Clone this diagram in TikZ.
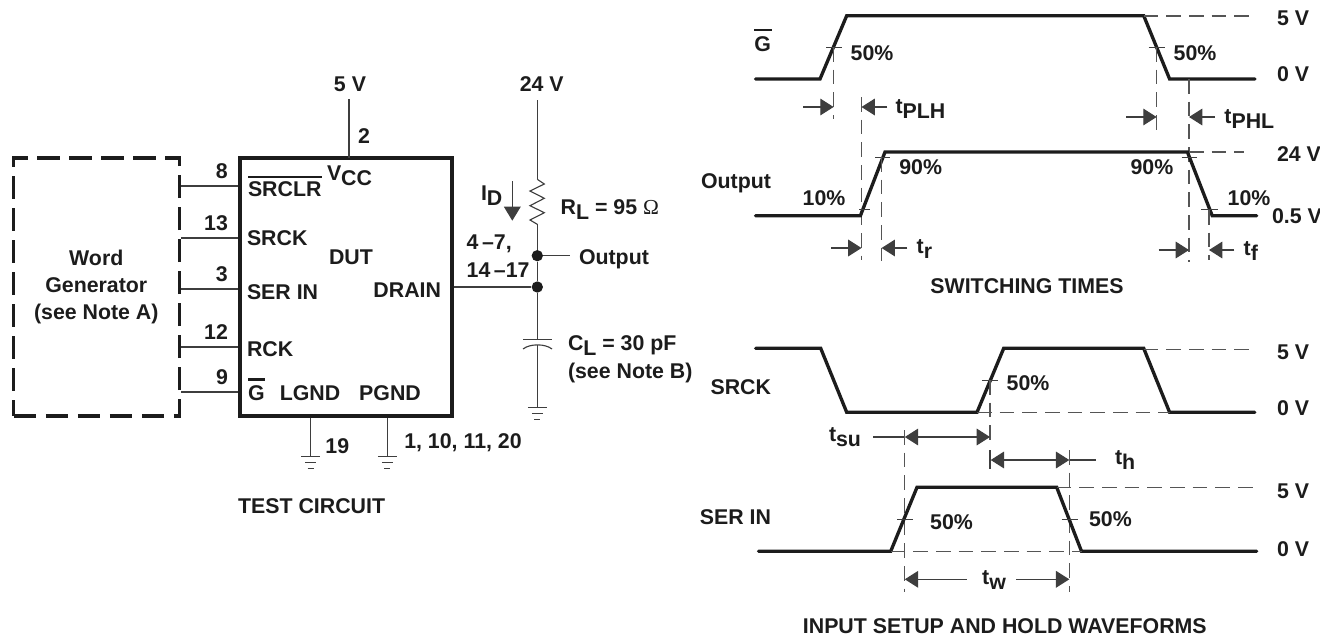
\documentclass[tikz,border=0pt]{standalone}
\usepackage{fontspec}
\setmainfont{Liberation Sans}
\newfontfamily\symfont{Liberation Serif}
\usetikzlibrary{arrows.meta}
\definecolor{ink}{HTML}{1c1c1c}
\newcommand{\subt}[2]{#1\raisebox{-3.8pt}{#2}}
\tikzset{
  lab/.style={inner sep=0pt,outer sep=0pt,font=\fontsize{16}{16}\selectfont\bfseries,text=ink,text height=11.4pt,text depth=0pt},
  wave/.style={line width=2.5pt,draw=ink,line join=miter,line cap=round},
  thin line/.style={line width=0.85pt,draw=ink!85},
  dashline/.style={line width=0.85pt,draw=ink!75,dash pattern=on 11pt off 6pt},
  ticks/.style={line width=0.75pt,draw=ink!85},
  dim/.style={line width=0.85pt,draw=ink!85,-{Triangle[length=10pt,width=12.5pt]}},
  dimboth/.style={line width=0.85pt,draw=ink!85,{Triangle[length=10pt,width=12.5pt]}-{Triangle[length=10pt,width=12.5pt]}},
  chip/.style={draw=ink,line width=2.5pt,inner sep=0pt,minimum width=159pt,minimum height=193.5pt},
  gen/.style={draw=ink,line width=2.5pt,dash pattern=on 17pt off 7pt,inner sep=0pt,minimum width=124.5pt,minimum height=193.5pt},
  junction/.style={circle,fill=ink,inner sep=0pt,minimum size=8.5pt},
}
\begin{document}
\begin{tikzpicture}[x=0.75pt,y=-0.75pt]
\useasboundingbox (0,0) rectangle (1320,636);
% ---- Test circuit
\node[gen] (wg) at (96.8,287) {};
\node[chip] (ic) at (346,287) {};
\node[lab] (wgt1) at (96.3,258) {Word};
\node[lab] (wgt2) at (96.3,285) {Generator};
\node[lab] (wgt3) at (96.3,312) {(see Note A)};
\foreach \nm/\yy/\pin/\lx in {p8/186/8/221.7,p13/238/13/216,p3/289/3/221.7,p12/347/12/216,p9/392/9/222}{
  \coordinate (\nm) at (ic.west |- 0,\yy);
  \draw[thin line] (wg.east |- \nm) -- (\nm);
  \pgfmathsetmacro{\ly}{\yy-15}
  \node[lab] (l\nm) at (\lx,\ly) {\pin};
}
\node[lab,anchor=west] (srclr) at (248,189) {SRCLR};
\draw[line width=2.2pt,draw=ink] (248,177) -- (322,177);
\node[lab,anchor=west] (srck) at (247,238) {SRCK};
\node[lab,anchor=west] (serin) at (247,292) {SER IN};
\node[lab,anchor=west] (rck) at (247,349) {RCK};
\node[lab] (gbar) at (256.5,393) {G};
\draw[line width=2.2pt,draw=ink] (248,379.5) -- (265,379.5);
\node[lab,anchor=west] (vcc) at (327,173) {\subt{V}{CC}};
\node[lab] (dut) at (351,257) {DUT};
\node[lab,anchor=east] (drain) at (441,290) {DRAIN};
\node[lab] (lgnd) at (310,393) {LGND};
\node[lab] (pgnd) at (390,393) {PGND};
% supply
\coordinate (vccpin) at (349,158);
\node[lab] (v5) at (350,84) {5 V};
\draw[thin line] (349,99) -- (vccpin);
\node[lab] (n2) at (364,136) {2};
% grounds
\foreach \gn/\gx/\gy in {gl/310.6/456.7,gp/387.4/456.7,gc/537.3/407.7}{
  \coordinate (\gn) at (\gx,\gy);
  \draw[thin line] ([xshift=-9.5*0.75pt]\gn) -- ([xshift=9.5*0.75pt]\gn);
  \draw[thin line] ([xshift=-5.5*0.75pt,yshift=-6*0.75pt]\gn) -- ([xshift=5.5*0.75pt,yshift=-6*0.75pt]\gn);
  \draw[thin line] ([xshift=-3*0.75pt,yshift=-11.5*0.75pt]\gn) -- ([xshift=3*0.75pt,yshift=-11.5*0.75pt]\gn);
}
\draw[thin line] (gl |- ic.south) -- (gl);
\draw[thin line] (gp |- ic.south) -- (gp);
\node[lab] (n19) at (337.3,446) {19};
\node[lab] (npg) at (463,440.7) {1, 10, 11, 20};
\node[lab] (tc) at (311.6,505.7) {TEST CIRCUIT};
% output column
\node[lab] (v24) at (541.7,84) {24 V};
\node[junction] (jo) at (537.3,255.7) {};
\node[junction] (jd) at (537.3,287) {};
\coordinate (rtop) at (537.3,179.3);
\coordinate (rbot) at (537.3,224.3);
\coordinate (ctop) at (537.3,339.3);
\coordinate (cbot) at (537.3,345);
\coordinate (oend) at (570,255.7);
\draw[thin line] (537.3,100) -- (rtop);
\draw[thin line] (rtop) -- (544.3,184) -- (530,191) -- (544.3,198.3) -- (530,205.7) -- (544.3,212.7) -- (530,220) -- (rbot);
\draw[thin line] (rbot) -- (jo);
\draw[thin line] (jo) -- (jd);
\draw[thin line] (jo) -- (oend);
\draw[thin line] (jd) -- (ctop);
\draw[thin line] (ic.east |- jd) -- (jd);
\draw[thin line] (523,339.3) -- (552,339.3);
\draw[thin line] (523,349) .. controls (530,343.5) and (545,343.5) .. (552,349);
\draw[thin line] (cbot) -- (gc);
\node[lab,anchor=west] (ooo) at (579,257) {Output};
\node[lab,anchor=west] (id) at (481,193) {\subt{I}{D}};
\coordinate (ida) at (512.3,181);
\coordinate (idb) at (512.3,220.7);
\draw[dim,-{Triangle[length=10.5pt,width=12.5pt]}] (ida) -- (idb);
\node[lab,anchor=west] (rl) at (560.7,207) {\subt{R}{L} = 95 {\symfont\fontseries{m}\selectfont Ω}};
\node[lab,anchor=west] (p47) at (466.7,242) {4\,–7,};
\node[lab,anchor=west] (p14) at (466.7,270) {14\,–17};
\node[lab,anchor=west] (cl) at (568,342.7) {\subt{C}{L} = 30 pF};
\node[lab,anchor=west] (nb) at (568,370.7) {(see Note B)};
% ---- Switching times
\node[lab] (glab) at (762.7,44) {G};
\draw[line width=2.2pt,draw=ink] (754,30) -- (771.5,30);
\draw[wave] (755.6,79) -- (820,79) -- (846.7,15.7) -- (1143.7,15.7) -- (1169.6,79) -- (1255,79);
\draw[dashline] (1143.7,16) -- (1249,16);
\draw[ticks] (826,47.3) -- (842,47.3);
\draw[ticks] (1148.5,47.7) -- (1165,47.7);
\draw[dashline] (833.6,47) -- (833.6,119);
\draw[dashline] (1156.6,47) -- (1156.6,133);
\draw[dashline] (861.5,97) -- (861.5,260);
\draw[dashline] (1189,79) -- (1189,262);
\node[lab] at (872,53) {50\%};
\node[lab] at (1195,52.5) {50\%};
\node[lab,anchor=west] at (1277,18) {5 V};
\node[lab,anchor=west] at (1277,74) {0 V};
\draw[dim] (803,107) -- (833.6,107);
\draw[dim] (887.4,107) -- (861.5,107);
\node[lab,anchor=west] at (895.5,106) {\subt{t}{PLH}};
\draw[dim] (1126,117) -- (1156.6,117);
\draw[dim] (1215,117) -- (1189,117);
\node[lab,anchor=west] at (1224.4,116) {\subt{t}{PHL}};
\node[lab,anchor=east] at (771,181) {Output};
\draw[wave] (755.6,215.7) -- (860.4,215.7) -- (885,152) -- (1187.4,152) -- (1212.2,215.7) -- (1256.7,215.7);
\draw[dashline] (1189,152) -- (1244,152);
\draw[ticks] (859,209.7) -- (870,209.7);
\draw[ticks] (875,157.3) -- (890,157.3);
\draw[ticks] (1181.5,157.3) -- (1197.4,157.3);
\draw[ticks] (1201,209.7) -- (1217.8,209.7);
\draw[dashline] (881.6,157) -- (881.6,261);
\draw[dashline] (1209,210) -- (1209,260);
\node[lab] at (824,198) {10\%};
\node[lab] at (920.7,167) {90\%};
\node[lab] at (1151.9,167) {90\%};
\node[lab] at (1249,198) {10\%};
\node[lab,anchor=west] at (1277,154) {24 V};
\node[lab,anchor=west] at (1272,216) {0.5 V};
\draw[dim] (831,248) -- (861.5,248);
\draw[dim] (907.4,248) -- (881.6,248);
\node[lab,anchor=west] at (916.7,246) {\subt{t}{r}};
\draw[dim] (1158.5,250) -- (1189,250);
\draw[dim] (1234.4,250) -- (1209,250);
\node[lab,anchor=west] at (1243.7,248) {\subt{t}{f}};
\node[lab] at (1027,286) {SWITCHING TIMES};
% ---- Setup and hold
\node[lab,anchor=east] at (771,386.7) {SRCK};
\draw[wave] (755.6,348.3) -- (820.7,348.3) -- (846.7,412.3) -- (977,412.3) -- (1003.7,348.3) -- (1143.7,348.3) -- (1169.6,412.3) -- (1254.8,412.3);
\draw[dashline] (1143.7,349.5) -- (1255.6,349.5);
\draw[dashline] (977,412.3) -- (1169.6,412.3);
\draw[ticks] (981.9,380) -- (998,380);
\draw[dashline] (990,380) -- (990,441.7);
\draw[thin line] (990,450) -- (990,469);
\node[lab] at (1028,383) {50\%};
\node[lab,anchor=west] at (1277,351.7) {5 V};
\node[lab,anchor=west] at (1277,407.7) {0 V};
\draw[dimboth] (904.8,437) -- (990,437);
\draw[thin line] (873.3,437) -- (904.8,437);
\node[lab,anchor=west] at (829,434) {\subt{t}{su}};
\draw[dimboth] (990.7,460) -- (1069.3,460);
\draw[thin line] (1069.3,460) -- (1095.5,460);
\node[lab,anchor=west] at (1115,457) {\subt{t}{h}};
\draw[dashline] (904.8,430) -- (904.8,592);
\draw[dashline] (1069.6,450) -- (1069.6,592);
\node[lab,anchor=east] at (771,516.7) {SER IN};
\draw[wave] (758.5,551.3) -- (890.7,551.3) -- (917,487.3) -- (1056.7,487.3) -- (1081.5,551.3) -- (1256.7,551.3);
\draw[dashline] (1056.7,487.6) -- (1254.8,487.6);
\draw[dashline] (890.7,551.3) -- (1081.5,551.3);
\draw[ticks] (897,519.3) -- (913,519.3);
\draw[ticks] (1061.5,519.3) -- (1077.8,519.3);
\node[lab] at (951.5,521.7) {50\%};
\node[lab] at (1110.4,519.3) {50\%};
\node[lab,anchor=west] at (1277,490.7) {5 V};
\node[lab,anchor=west] at (1277,548.7) {0 V};
\draw[dim] (966.7,579.3) -- (904.8,579.3);
\draw[dim] (1016,579.3) -- (1069.3,579.3);
\node[lab] at (994,577) {\subt{t}{w}};
\node[lab] at (1004.8,626) {INPUT SETUP AND HOLD WAVEFORMS};
\end{tikzpicture}
\end{document}
